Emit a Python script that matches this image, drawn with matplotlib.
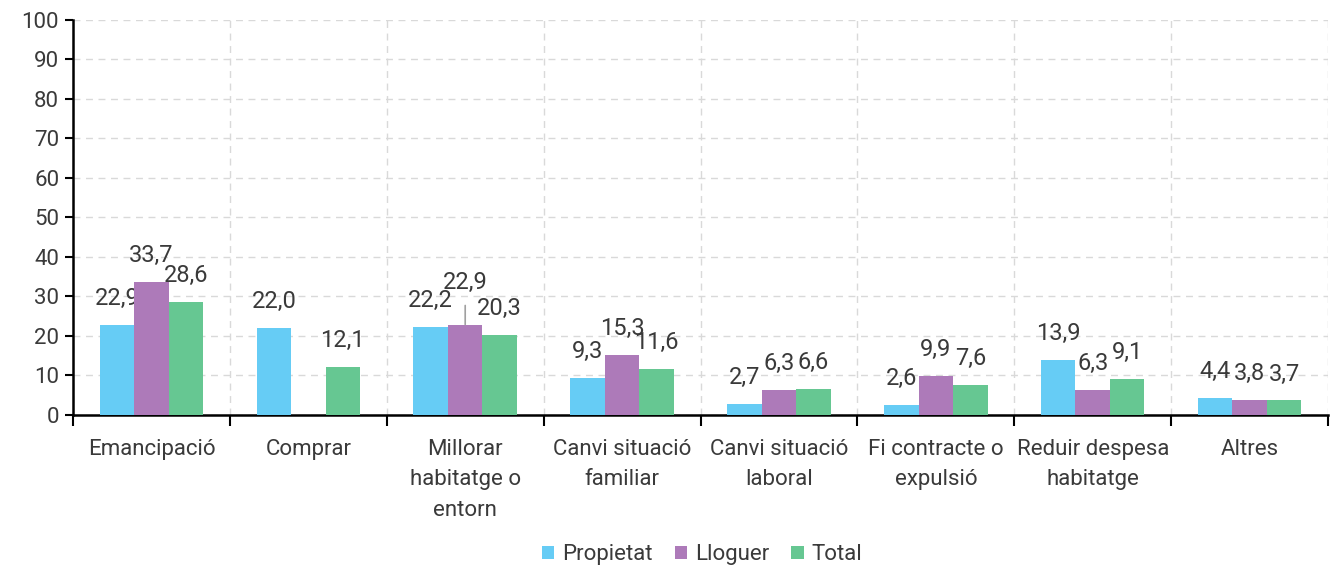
import matplotlib.pyplot as plt
import numpy as np

# Dades del gràfic
categories = ["Emancipació", "Comprar", "Millorar\nhabitatge o\nentorn", "Canvi situació\nfamiliar",
              "Canvi situació\nlaboral", "Fi contracte o\nexpulsió", "Reduir despesa\nhabitatge", "Altres"]
propietat = [22.9, 22.0, 22.2, 9.3, 2.7, 2.6, 13.9, 4.4]
lloguer = [33.7, np.nan, 22.9, 15.3, 6.3, 9.9, 6.3, 3.8]
total = [28.6, 12.1, 20.3, 11.6, 6.6, 7.6, 9.1, 3.7]
series_names = ["Propietat", "Lloguer", "Total"]
colors = ["#66CCF5", "#AD7AB9", "#66C792"]

plt.rcParams['font.family'] = ['Roboto', 'DejaVu Sans']
text_color = "#3a3a3a"

fig = plt.figure(figsize=(13.3, 5.66), dpi=100)
ax = fig.add_axes([0.0549, 0.2668, 0.9436, 0.6979])

x = np.arange(len(categories))
w = 0.22
handles = []
for i, (name, vals, c) in enumerate(zip(series_names, [propietat, lloguer, total], colors)):
    pos = x + (i - 1) * w
    vals = np.array(vals, dtype=float)
    ok = ~np.isnan(vals)
    b = ax.bar(pos[ok], vals[ok], width=w, color=c, label=name, zorder=3)
    handles.append(b)
    for px, v in zip(pos[ok], vals[ok]):
        txt = f"{v:.1f}".replace(".", ",")
        if name == "Lloguer" and px == 2:
            # etiqueta desplaçada amb línia guia
            ax.annotate(txt, xy=(px, v), xytext=(0, 30), textcoords='offset points',
                        ha='center', va='center', fontsize=17, color=text_color,
                        arrowprops=dict(arrowstyle='-', color='#a0a0a0', lw=1.2,
                                        shrinkA=6, shrinkB=0))
        else:
            ax.annotate(txt, xy=(px, v), xytext=(0, 19), textcoords='offset points',
                        ha='center', va='center', fontsize=17, color=text_color)

ax.set_xlim(-0.5, len(categories) - 0.5)
ax.set_ylim(0, 100)
ax.set_yticks(np.arange(0, 101, 10))
ax.tick_params(axis='y', labelsize=16, labelcolor=text_color, length=6, width=1.5, pad=4)

# ticks majors a les fronteres, etiquetes al centre
ax.set_xticks(np.arange(-0.5, len(categories), 1))
ax.set_xticklabels([])
ax.set_xticks(x, minor=True)
ax.set_xticklabels(categories, minor=True, fontsize=16, color=text_color, linespacing=1.6)
ax.tick_params(axis='x', which='major', length=8, width=1.5)
ax.tick_params(axis='x', which='minor', length=0, pad=17)

ax.grid(True, which='major', linestyle=(0, (5, 4)), color='#d9d9d9', lw=1, zorder=0)
for s in ['top', 'right']:
    ax.spines[s].set_visible(False)
ax.spines['left'].set_linewidth(1.8)
ax.spines['bottom'].set_linewidth(1.8)

fig.legend(handles=handles, loc='center', bbox_to_anchor=(0.528, 0.0195), ncol=3, frameon=False,
           fontsize=16, labelcolor=text_color, handlelength=0.55, handleheight=0.55,
           handletextpad=0.35, columnspacing=1.0)

fig.savefig("out.png", dpi=100)
